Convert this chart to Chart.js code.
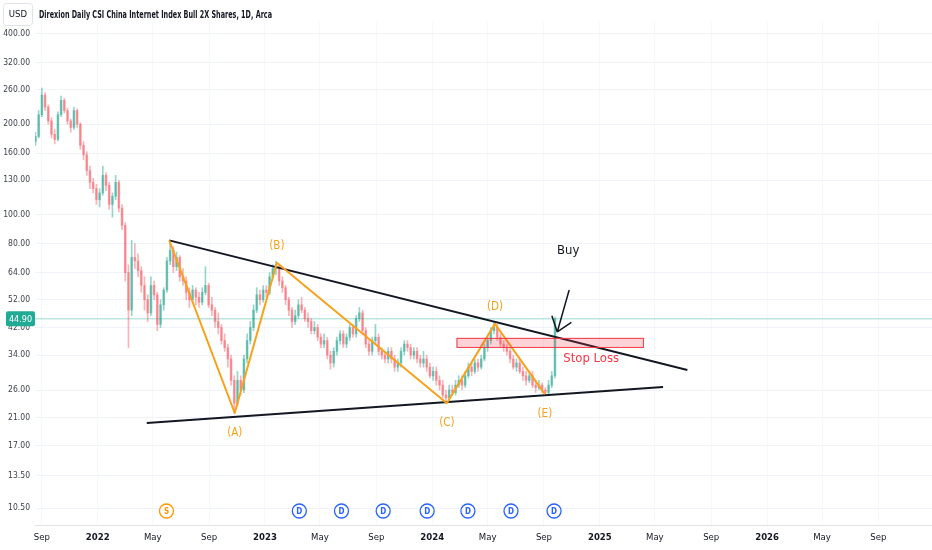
<!DOCTYPE html>
<html>
<head>
<meta charset="utf-8">
<title>CWEB</title>
<script src="https://cdn.jsdelivr.net/npm/chart.js@4.4.1/dist/chart.umd.min.js"></script>
<style>
  html, body { margin: 0; padding: 0; background: #ffffff; }
  #wrap { width: 932px; height: 550px; position: relative; }
</style>
</head>
<body>
<div id="wrap"><canvas id="priceChart"></canvas></div>
<script>
// weekly candles, first week starting 2021-08-16
const weekStart = '2021-08-16';

const opens = [
  175,182,215,250,228,205,185,178,215,240,
  222,205,195,222,200,170,158,140,128,122,
  112,118,135,125,108,115,128,105,92,64,
  48,72,70,65,58,52,47,58,54,43,
  50,56,70,76,67,72,62,60,55,52,
  56,53,51,55,58,50,48,44,42,38,
  36,33,28,23.5,28,26,33,38,42,48,
  54,52,56,55,62,66,67,60,57,52,
  48,44,46,50,48,45,44,41,42,39,
  37,38,34,32,35,38,40,37,39,42,
  40,45,47,41,37,35,38,39,35,34,
  33,35,33,31,32,35,37,36,34,35,
  33,32,33,31,29,30,28,27,25,24.5,
  26,25.5,27,28,27,29,31,30,32,31,
  33,36,38,41,42,39,37,36,35,33,
  31,32,30,29,28,29,27,26.5,27,26,
  25.5,27,29
];
const highs = [
  188,222,264,255,232,210,192,220,248,244,
  226,208,228,225,202,175,162,145,132,126,
  122,145,138,128,118,135,130,108,94,68,
  82,80,74,67,62,54,62,60,55,52,
  57,72,82,78,75,73,66,62,57,58,
  57,55,57,67,59,53,49,47,43,40,
  37,34,29,30,29,34,40,44,50,57,
  56,58,58,64,68,70,68,62,58,53,
  49,48,52,53,49,47,45,44,43,40,
  40,39,35,36,39,41,41,40,43,43,
  46,49,48,42,38,39,43,40,36,35,
  36,36,34,33,36,38,38,37,36,36,
  34,35,34,32,31,31,29,28,26,27,
  27,28,29,29,30,32,32,33,33,34,
  37,39,42,44,43,40,38,37,36,34,
  33,33,31,30,30,30,28,28,27.5,26.5,
  28,30,45.5
];
const lows = [
  170,180,212,222,200,180,172,176,212,218,
  200,188,192,195,165,152,135,122,118,108,
  106,116,120,104,98,112,102,89,60,36,
  46,66,62,55,48,44,46,52,41,42,
  48,55,68,64,65,60,58,52,49,51,
  50,49,50,54,49,46,42,40,37,35,
  31,27,21.8,23,25,25.5,32,37,41,47,
  50,51,53,54,61,63,58,55,50,46,
  42,43,45,47,44,42,40,40,38,36,
  36,33,30.5,31,34,37,36,36,38,39,
  39,44,40,36,34,34,37,34,33,32,
  32,32,30,30,31,34,35,33,33,32,
  31,31,30,28.5,28,27,26,24.5,23.5,24,
  25,25,26.5,26,26.5,28.5,29,29.5,30,30.5,
  32.5,35,37,40,38,36,35,34,32,30.5,
  30,29.5,28,27,27.5,26.5,25.5,26,25.5,25,
  25.2,26.5,28.5
];
const closes = [
  182,215,250,228,205,185,178,215,240,222,
  205,195,222,200,170,158,140,128,122,112,
  118,135,125,108,115,128,105,92,64,48,
  72,70,65,58,52,47,58,54,43,50,
  56,70,76,67,72,62,60,55,52,56,
  53,51,55,58,50,48,44,42,38,36,
  33,28,23.5,28,26,33,38,42,48,54,
  52,56,55,62,66,67,60,57,52,48,
  44,46,50,48,45,44,41,42,39,37,
  38,34,32,35,38,40,37,39,42,40,
  45,47,41,37,35,38,39,35,34,33,
  35,33,31,32,35,37,36,34,35,33,
  32,33,31,29,30,28,27,25,24.5,26,
  25.5,27,28,27,29,31,30,32,31,33,
  36,38,41,42,39,37,36,35,33,31,
  32,30,29,28,29,27,26.5,27,26,25.5,
  27,29,44.9
];
const lastPrice = 44.90;

// axes
const yTicks = [10.5, 13.5, 17, 21, 26, 34, 42, 52, 64, 80, 100, 130, 160, 200, 260, 320, 400];
const xTickDates = ['2021-09-01','2022-01-01','2022-05-01','2022-09-01','2023-01-01','2023-05-01',
  '2023-09-01','2024-01-01','2024-05-01','2024-09-01','2025-01-01','2025-05-01','2025-09-01',
  '2026-01-01','2026-05-01','2026-09-01'];
const xTickLabels = ['Sep','2022','May','Sep','2023','May','Sep','2024','May','Sep','2025','May','Sep','2026','May','Sep'];

// drawings
const upperDates = ['2022-06-06', '2025-07-11'];
const upperPrices = [82, 30.3];
const lowerDates = ['2022-04-18', '2025-05-19'];
const lowerPrices = [20.2, 26.6];
const waveDates = ['2022-06-06', '2022-10-27', '2023-01-27', '2024-02-02', '2024-05-17', '2024-09-03'];
const wavePrices = [82, 21.8, 69, 23.5, 43.2, 25.2];
const waveLabels = ['', '(A)', '(B)', '(C)', '(D)', '(E)'];
const stopDates = ['2024-02-23', '2025-04-05'];
const stopPrices = [36.2, 38.8];
const stopTextAt = ['2024-10-13', 33.0];
const buyTextAt = ['2024-10-24', 75.6];
const arrowFrom = ['2024-10-26', 56];
const arrowTo = ['2024-09-30', 40.6];
const eventDates = ['2022-05-31','2023-03-17','2023-06-17','2023-09-16','2023-12-21','2024-03-19','2024-06-21','2024-09-23'];
const eventKinds = ['S','D','D','D','D','D','D','D'];

const EPOCH = Date.UTC(2022, 0, 1);
function dayOf(s) {
    const p = s.split('-').map(Number);
    return (Date.UTC(p[0], p[1] - 1, p[2]) - EPOCH) / 86400000;
}

const NARROW = '"Liberation Sans Narrow", "DejaVu Sans Condensed", "Roboto Condensed", "Noto Sans", sans-serif';
const UP = 'rgba(8,153,129,0.42)';
const DOWN = 'rgba(242,54,69,0.38)';
const ORANGE = '#f7a21b';

Chart.defaults.font.family = NARROW;

const candleX = closes.map((c, i) => dayOf(weekStart) + 7 * i + 2);
const candleColor = closes.map((c, i) => c >= opens[i] ? UP : DOWN);
const tickDays = xTickDates.map(dayOf);

function pts(dates, prices) {
    return dates.map((d, i) => ({ x: dayOf(d), y: prices[i] }));
}

const overlayPlugin = {
    id: 'overlay',
    beforeDatasetsDraw(chart) {
        const { ctx, chartArea, scales } = chart;
        const y = scales.y.getPixelForValue(lastPrice);
        ctx.save();
        ctx.strokeStyle = 'rgba(34,171,148,0.45)';
        ctx.lineWidth = 1;
        ctx.beginPath();
        ctx.moveTo(chartArea.left, y);
        ctx.lineTo(chartArea.right, y);
        ctx.stroke();
        ctx.restore();
    },
    afterDatasetsDraw(chart) {
        const { ctx, chartArea, scales } = chart;
        const xs = scales.x, ys = scales.y;
        ctx.save();

        // stop loss zone
        const x1 = xs.getPixelForValue(dayOf(stopDates[0]));
        const x2 = xs.getPixelForValue(dayOf(stopDates[1]));
        const y1 = ys.getPixelForValue(stopPrices[1]);
        const y2 = ys.getPixelForValue(stopPrices[0]);
        ctx.fillStyle = 'rgba(242,54,69,0.22)';
        ctx.fillRect(x1, y1, x2 - x1, y2 - y1);
        ctx.strokeStyle = '#f23645';
        ctx.lineWidth = 1;
        ctx.strokeRect(x1 + 0.5, y1 + 0.5, x2 - x1, y2 - y1);

        ctx.fillStyle = '#f23645';
        ctx.font = '13px ' + NARROW;
        ctx.textAlign = 'left';
        ctx.textBaseline = 'middle';
        ctx.fillText('Stop Loss', xs.getPixelForValue(dayOf(stopTextAt[0])), ys.getPixelForValue(stopTextAt[1]));

        // wave labels
        ctx.fillStyle = ORANGE;
        ctx.font = '11.5px ' + NARROW;
        ctx.textAlign = 'center';
        waveLabels.forEach((lab, i) => {
            if (!lab) return;
            const px = xs.getPixelForValue(dayOf(waveDates[i]));
            const py = ys.getPixelForValue(wavePrices[i]);
            const low = wavePrices[i] < wavePrices[i - 1];
            ctx.fillText(lab, px, low ? py + 20 : py - 17);
        });

        // buy text and arrow
        ctx.fillStyle = '#131722';
        ctx.font = '13px ' + NARROW;
        ctx.fillText('Buy', xs.getPixelForValue(dayOf(buyTextAt[0])), ys.getPixelForValue(buyTextAt[1]));
        const ax = xs.getPixelForValue(dayOf(arrowFrom[0])), ay = ys.getPixelForValue(arrowFrom[1]);
        const bx = xs.getPixelForValue(dayOf(arrowTo[0])), by = ys.getPixelForValue(arrowTo[1]);
        const ang = Math.atan2(by - ay, bx - ax);
        ctx.strokeStyle = '#131722';
        ctx.lineWidth = 1.5;
        ctx.beginPath();
        ctx.moveTo(ax, ay);
        ctx.lineTo(bx, by);
        [-0.6, 0.7].forEach(d => {
            ctx.moveTo(bx, by);
            ctx.lineTo(bx - 17 * Math.cos(ang + d), by - 17 * Math.sin(ang + d));
        });
        ctx.stroke();

        // split / dividend markers
        const ey = chartArea.bottom - 14;
        ctx.font = 'bold 8px ' + NARROW;
        eventDates.forEach((d, i) => {
            const ex = xs.getPixelForValue(dayOf(d));
            const col = eventKinds[i] === 'S' ? '#ff9800' : '#2962ff';
            ctx.beginPath();
            ctx.arc(ex, ey, 7, 0, Math.PI * 2);
            ctx.fillStyle = '#ffffff';
            ctx.fill();
            ctx.strokeStyle = col;
            ctx.lineWidth = 1.3;
            ctx.stroke();
            ctx.fillStyle = col;
            ctx.fillText(eventKinds[i], ex, ey + 0.5);
        });
        ctx.restore();
    },
    afterDraw(chart) {
        const { ctx, scales } = chart;
        ctx.save();
        // currency box
        ctx.strokeStyle = '#e0e3eb';
        ctx.lineWidth = 1;
        ctx.beginPath();
        ctx.roundRect(3.5, 3.5, 29, 22, 3);
        ctx.stroke();
        ctx.fillStyle = '#131722';
        ctx.font = '9.5px ' + NARROW;
        ctx.textAlign = 'center';
        ctx.textBaseline = 'middle';
        ctx.fillText('USD', 18, 15);

        // title
        const title = 'Direxion Daily CSI China Internet Index Bull 2X Shares, 1D, Arca';
        ctx.font = '600 11px ' + NARROW;
        ctx.textAlign = 'left';
        const w = ctx.measureText(title).width;
        ctx.translate(39, 15);
        ctx.scale(233 / w, 1);
        ctx.fillText(title, 0, 0);
        ctx.setTransform(1, 0, 0, 1, 0, 0);
        ctx.scale(chart.currentDevicePixelRatio, chart.currentDevicePixelRatio);

        // last price badge
        const py = scales.y.getPixelForValue(lastPrice);
        ctx.fillStyle = '#22ab94';
        ctx.beginPath();
        ctx.roundRect(6, py - 7.5, 29, 15, 2);
        ctx.fill();
        ctx.fillStyle = '#ffffff';
        ctx.font = '9px ' + NARROW;
        ctx.textAlign = 'center';
        ctx.fillText(lastPrice.toFixed(2), 20.5, py + 0.5);
        ctx.restore();
    }
};

const ctx = document.getElementById('priceChart').getContext('2d');
new Chart(ctx, {
    type: 'bar',
    data: {
        datasets: [
            {
                label: 'wick',
                data: candleX.map((x, i) => ({ x: x, y: [lows[i], highs[i]] })),
                backgroundColor: candleColor,
                barThickness: 1,
                grouped: false,
                order: 5
            },
            {
                label: 'body',
                data: candleX.map((x, i) => ({ x: x, y: [opens[i], closes[i]] })),
                backgroundColor: candleColor,
                barThickness: 2,
                grouped: false,
                order: 4
            },
            {
                type: 'line',
                label: 'upper',
                data: pts(upperDates, upperPrices),
                borderColor: '#131722',
                borderWidth: 2,
                pointRadius: 0,
                order: 1
            },
            {
                type: 'line',
                label: 'lower',
                data: pts(lowerDates, lowerPrices),
                borderColor: '#131722',
                borderWidth: 2,
                pointRadius: 0,
                order: 1
            },
            {
                type: 'line',
                label: 'waves',
                data: pts(waveDates, wavePrices),
                borderColor: ORANGE,
                borderWidth: 2,
                pointRadius: 0,
                borderJoinStyle: 'round',
                order: 0
            }
        ]
    },
    options: {
        responsive: true,
        maintainAspectRatio: false,
        animation: false,
        layout: { padding: { top: 22 } },
        plugins: {
            legend: { display: false },
            tooltip: { enabled: false }
        },
        scales: {
            x: {
                type: 'linear',
                min: dayOf('2021-08-17'),
                max: dayOf('2026-12-27'),
                offset: false,
                grid: { color: '#f7f8fa', drawTicks: false, offset: false },
                border: { color: '#e0e3eb' },
                afterBuildTicks: scale => { scale.ticks = tickDays.map(v => ({ value: v })); },
                afterFit: scale => { scale.height = 25; },
                ticks: {
                    autoSkip: false,
                    maxRotation: 0,
                    padding: 7,
                    color: '#131722',
                    font: c => ({ size: 9.5, weight: /^\d/.test(xTickLabels[c.index] || '') ? 'bold' : 'normal' }),
                    callback: (v, i) => xTickLabels[i]
                }
            },
            y: {
                type: 'logarithmic',
                position: 'left',
                min: 9.23,
                max: 438,
                grid: { color: '#f0f3fa', drawTicks: false },
                border: { display: false },
                afterBuildTicks: scale => { scale.ticks = yTicks.map(v => ({ value: v })); },
                afterFit: scale => { scale.width = 35; },
                ticks: {
                    autoSkip: false,
                    padding: 5,
                    color: '#3b3f4a',
                    font: { size: 8.5 },
                    callback: v => Number(v).toFixed(2)
                }
            }
        }
    },
    plugins: [overlayPlugin]
});
</script>
</body>
</html>
